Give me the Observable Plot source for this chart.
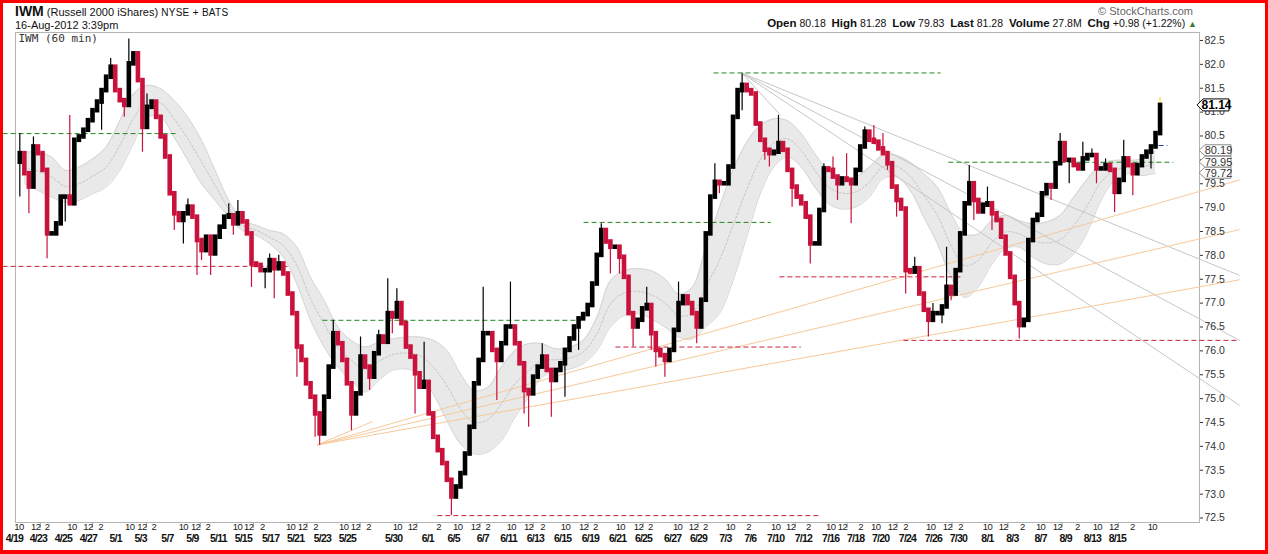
<!DOCTYPE html>
<html><head><meta charset="utf-8">
<script src="https://cdn.jsdelivr.net/npm/d3@7"></script>
<script src="https://cdn.jsdelivr.net/npm/@observablehq/plot@0.6"></script>
<style>
html,body{margin:0;padding:0;background:#fff;}
#wrap{position:relative;width:1268px;height:554px;overflow:hidden;font-family:"Liberation Sans",Arial,sans-serif;color:#111;}
.abs{position:absolute;white-space:nowrap;}
#border{position:absolute;left:0;top:0;width:1268px;height:554px;box-sizing:border-box;border:3px solid #ff0000;border-bottom-width:4px;pointer-events:none;}
#chart{position:absolute;left:0;top:30px;}
b{font-weight:bold;font-size:11.5px;}
</style></head>
<body><div id="wrap">
<div class="abs" style="left:15px;top:4px;line-height:14px;"><span style="font-weight:bold;font-size:14px;">IWM</span><span style="font-size:11px;"> (Russell 2000 iShares) </span><span style="font-size:10px;letter-spacing:0.3px;">NYSE + BATS</span></div>
<div class="abs" style="left:15px;top:19px;font-size:11px;line-height:12px;">16-Aug-2012 3:39pm</div>
<div class="abs" style="right:75px;top:5px;font-size:11px;line-height:12px;color:#666;">© StockCharts.com</div>
<div class="abs" style="right:71px;top:17px;font-size:10.5px;line-height:13px;"><b>Open</b> 80.18&nbsp; <b>High</b> 81.28&nbsp; <b>Low</b> 79.83&nbsp; <b>Last</b> 81.28&nbsp; <b>Volume</b> 27.8M&nbsp; <b>Chg</b> +0.98 (+1.22%) <span style="color:#3a7a3a;font-size:9px;">▲</span></div>
<div id="chart"></div>
<div id="border"></div>
</div>
<script>
// ---------- DATA ----------
// x unit = "slot": three readings per trading day (10, 12, 2 o'clock), 4/19 .. 8/16
const firstOpen = 79.95;
const closes = [
 80.13, 79.71, 79.43, 80.27, 80.13, 79.78, 78.45, 78.45, 78.66, 79.22, 79.22, 79.08,
 80.41, 80.48, 80.62, 80.82, 81.03, 81.21, 81.45, 81.73, 81.94, 81.45, 81.24, 81.14,
 82.01, 82.22, 81.66, 80.68, 81.10, 81.21, 80.89, 80.48, 80.06, 79.29, 78.87, 78.73,
 78.87, 79.01, 78.80, 78.31, 78.10, 78.38, 78.03, 78.38, 78.59, 78.80, 78.83, 78.66,
 78.87, 78.70, 78.45, 77.82, 77.79, 77.68, 77.68, 77.89, 77.72, 77.82, 77.61, 77.19,
 76.78, 76.08, 75.80, 75.31, 75.03, 74.68, 74.26, 75.03, 75.66, 76.36, 76.15, 75.80,
 75.31, 74.68, 75.10, 75.87, 75.66, 75.45, 75.94, 76.29, 76.18, 76.78, 76.71, 76.99,
 76.57, 76.08, 75.87, 75.52, 75.24, 75.34, 74.68, 74.19, 73.91, 73.64, 73.29, 72.94,
 73.15, 73.43, 73.84, 74.40, 75.31, 75.80, 76.36, 76.36, 76.01, 75.80, 76.15, 76.50,
 76.50, 76.15, 75.73, 75.17, 75.10, 75.45, 75.66, 75.87, 75.59, 75.38, 75.59, 75.73,
 76.01, 76.25, 76.50, 76.67, 76.76, 76.95, 77.40, 78.00, 78.52, 78.28, 78.17, 78.17,
 77.96, 77.54, 76.78, 76.50, 76.64, 76.88, 76.95, 76.36, 76.01, 75.90, 75.80, 76.01,
 76.43, 76.99, 77.13, 76.99, 76.78, 76.50, 77.06, 78.45, 79.22, 79.53, 79.50, 79.50,
 79.85, 80.89, 81.45, 81.56, 81.45, 81.38, 80.75, 80.41, 80.20, 80.13, 80.16, 80.34,
 80.20, 79.78, 79.43, 79.22, 79.08, 78.80, 78.24, 78.24, 78.94, 79.81, 79.78, 79.64,
 79.50, 79.60, 79.57, 79.50, 79.78, 80.27, 80.58, 80.41, 80.37, 80.23, 80.13, 79.92,
 79.43, 79.15, 78.97, 77.68, 77.65, 77.72, 77.19, 76.85, 76.64, 76.78, 76.78, 76.92,
 77.33, 77.19, 77.68, 78.45, 79.08, 79.50, 79.15, 78.91, 79.05, 79.08, 78.87, 78.73,
 78.38, 78.03, 77.54, 76.99, 76.53, 76.64, 78.31, 78.73, 78.84, 79.29, 79.46, 79.43,
 79.92, 80.34, 79.99, 79.99, 79.88, 79.81, 80.02, 80.09, 80.09, 79.81, 79.81, 79.88,
 79.78, 79.32, 79.57, 80.02, 79.88, 79.71, 79.88, 80.06, 80.16, 80.27, 80.55, 81.14
];
// wick tips [slot, price]
const wickTips = [
 [0,80.55],[0,79.22],[2,78.87],[3,80.48],[6,77.93],[10,78.70],[11,80.93],[18,80.62],[20,82.12],[23,80.89],
 [24,82.53],[27,80.16],[28,81.38],[34,78.52],[36,78.24],[37,79.18],[39,77.58],[40,77.89],[42,77.58],[46,79.08],
 [47,78.42],[48,79.15],[51,77.33],[54,77.30],[55,78.03],[56,77.09],[57,78.00],[61,75.45],
 [65,74.19],[66,74.02],[69,76.64],[73,74.33],[75,76.29],[77,75.17],[79,76.43],[81,77.51],[82,76.36],[83,77.30],
 [87,74.68],[89,76.18],[95,72.55],[102,77.33],[105,74.96],[108,77.44],[111,74.68],[112,74.40],[115,76.15],[117,74.61],
 [120,75.03],[123,76.01],
 [128,78.66],[130,77.61],[132,77.61],[135,76.08],[138,77.33],[139,76.01],[140,75.66],[142,75.45],[145,77.44],[149,76.15],
 [153,79.92],[154,79.29],[159,81.80],[159,81.03],[164,79.99],[165,79.85],[167,80.93],[170,79.01],[174,77.82],[177,79.92],
 [179,80.06],[180,79.15],[182,80.13],[183,78.66],[186,80.69],[188,80.72],[193,78.80],
 [190,80.55],[191,79.78],[195,77.19],[197,77.96],[200,76.29],[201,76.99],[203,76.57],[204,78.17],[205,77.05],[209,79.88],
 [210,78.73],[213,79.43],[214,78.52],[220,76.25],[227,79.15],[229,80.55],[231,79.50],[234,80.37],[236,80.23],[237,79.50],
 [239,80.02],[241,78.90],[243,80.41],[245,79.25],[249,79.81],[251,81.31]
];
// moving-average envelope, one reading per trading day
const bandHi = [
 80.16, 80.16, 80.06, 79.78, 79.85, 80.02, 80.27, 80.82, 81.38, 81.56, 81.49, 81.24,
 80.89, 80.41, 79.78, 79.15, 78.73, 78.63, 78.52, 78.45, 78.17, 77.54, 77.06, 76.50,
 76.22, 76.08, 76.18, 76.25, 76.29, 76.29, 76.22, 76.01, 75.52, 75.17, 75.24, 75.66,
 76.01, 76.15, 76.15, 76.04, 76.08, 76.22, 76.70, 77.47, 77.68, 77.72, 77.68, 77.51,
 77.19, 77.33, 78.17, 79.01, 79.78, 80.37, 80.72, 80.86, 80.82, 80.55, 80.13, 79.78,
 79.64, 79.64, 79.85, 80.10, 80.09, 79.95, 79.71, 79.43, 78.87, 78.45, 78.45, 78.73,
 78.84, 78.73, 78.66, 78.70, 78.84, 79.22, 79.60, 79.92, 79.99, 79.99, 80.02, 80.19
];
const bandLo = [
 79.50, 79.36, 79.22, 79.11, 79.15, 79.29, 79.43, 79.78, 80.34, 80.89, 80.89, 80.47,
 79.99, 79.50, 79.15, 78.80, 78.52, 78.42, 78.24, 77.96, 77.40, 76.64, 76.08, 75.66,
 75.38, 75.14, 75.38, 75.59, 75.62, 75.52, 75.10, 74.54, 74.05, 73.84, 73.88, 74.12,
 74.61, 75.03, 75.45, 75.59, 75.62, 75.73, 76.00, 76.50, 76.74, 76.78, 76.67, 76.50,
 76.29, 76.25, 76.50, 76.78, 77.47, 78.38, 79.29, 79.85, 80.06, 79.85, 79.43, 79.08,
 78.97, 79.01, 79.22, 79.60, 79.64, 79.36, 78.80, 78.24, 77.54, 77.12, 77.34, 77.82,
 78.14, 78.17, 77.96, 77.82, 77.82, 78.03, 78.49, 79.15, 79.57, 79.71, 79.67, 79.72
];
// dashed horizontal levels
const levelKind  = ["green","green","green","green","green","red","red","red","red","red","blue"];
const levelPrice = [80.55, 76.64, 78.69, 81.82, 79.95, 77.77, 72.55, 76.08, 77.55, 76.22, 80.30];
const levelFrom  = [-3.8, 66.6, 124.1, 152.7, 204.4, -3.8, 91.9, 131.1, 167.2, 194.5, 248.9];
const levelTo    = [34.7, 122.3, 165.3, 202.7, 253.9, 59.6, 175.8, 171.9, 207.5, 268.5, 252.6];
// trend fans
const grayFanFrom = [158.9, 81.82];
const grayFanTo   = [[268.5, 77.58], [268.5, 76.22], [268.5, 74.86], [167.5, 80.93]];
const orangeFanFrom = [65.46, 74.03];
const orangeFanTo   = [[268.5, 79.58], [268.5, 78.54], [268.5, 77.49], [77.6, 74.52]];
// price axis
const yTicks = [72.5,73.0,73.5,74.0,74.5,75.0,75.5,76.0,76.5,77.0,77.5,78.0,78.5,79.0,79.5,80.0,80.5,81.0,81.5,82.0,82.5];
const yHiddenLabels = [80.0];   // covered by the value tags in the reference
// time axis labels (slot positions)
const hourLabels = ["10","12","2","10","12","2","10","12","2","10","12","2","10","12","2","10","12","2","10","12","2","10","12",
 "2","10","12","2","10","12","2","10","12","2","10","12","2","10","12","2","10","2","10","12","2","10","12",
 "2","10","12","2","10","12","2","10","12","2","10","12","2","10","12","2","10"];
const hourPos = [-0.2,3.5,6.0,11.5,15.0,17.8,24.2,26.9,29.5,36.0,38.7,41.4,47.9,50.4,53.4,59.6,62.2,65.1,71.3,73.9,76.8,83.1,86.4,
 92.2,96.4,100.3,103.0,108.2,112.0,115.1,120.1,124.1,126.7,132.2,136.2,138.8,144.8,148.3,150.9,156.4,160.4,166.4,169.7,173.6,178.5,181.1,
 185.1,188.4,192.1,195.0,200.5,204.2,207.1,213.0,216.5,220.7,224.7,228.4,232.8,237.2,240.8,244.9,249.3];
const dateLabels = ["4/19","4/23","4/25","4/27","5/1","5/3","5/7","5/9","5/11","5/15","5/17","5/21","5/23","5/25","5/30",
 "6/1","6/5","6/7","6/11","6/13","6/15","6/19","6/21","6/25","6/27","6/29","7/3","7/6","7/10","7/12","7/16",
 "7/18","7/20","7/24","7/26","7/30","8/1","8/3","8/7","8/9","8/13","8/15"];
const datePos = [-1.2,4.1,9.6,15.1,21.1,26.6,32.5,38.0,43.7,49.2,55.2,60.7,66.6,72.1,82.3,
 89.8,95.5,101.9,107.6,113.5,119.5,125.6,131.6,137.3,143.7,149.4,155.3,160.8,166.4,172.5,178.5,
 184.0,189.5,195.4,201.1,206.6,213.0,218.5,224.7,230.2,236.1,241.6];
// right-edge value tags
const tagValues = [81.14, 80.19, 79.95, 79.72];
const tagBold = [true, false, false, false];

// ---------- BUILD ----------
const RED = "#c8123c";
const candles = closes.map((c, i) => {
  const o = i ? closes[i - 1] : firstOpen;
  return {s: i, open: o, close: c, color: c >= o ? "#000000" : RED};
});
const wicks = wickTips.map(([s, p]) => ({
  s, tip: p, base: closes[s],
  color: (s === closes.length - 1 && p > closes[s]) ? "#f4e24a" : candles[s].color
}));
const band = bandHi.map((h, d) => ({s: 3 * d + 1, hi: h, lo: bandLo[d]}));
const levelColor = {green: "#1f8a1f", red: "#c8203a", blue: "#2233aa"};
const levels = levelPrice.map((p, i) => ({p, from: levelFrom[i], to: levelTo[i], color: levelColor[levelKind[i]]}));
const fans = [
  ...grayFanTo.map(([s, p]) => ({x1: grayFanFrom[0], y1: grayFanFrom[1], x2: s, y2: p, color: "#c6c6c6"})),
  ...orangeFanTo.map(([s, p]) => ({x1: orangeFanFrom[0], y1: orangeFanFrom[1], x2: s, y2: p, color: "#f7c89a"}))
];
const hours = hourLabels.map((t, i) => ({s: hourPos[i], t}));
const dates = dateLabels.map((t, i) => ({s: datePos[i], t}));
const smallTicks = hours.filter(d => d.t === "12").map(d => d.s + 1.0);

const chart = Plot.plot({
  width: 1268, height: 524,
  marginLeft: 15, marginRight: 69, marginTop: 2, marginBottom: 32,
  x: {domain: [-0.95, 259.68], label: null},
  y: {domain: [72.406, 82.667], label: null},
  style: {fontFamily: "'Liberation Sans', Arial, sans-serif", fontSize: "10px", color: "#222", background: "transparent", overflow: "visible"},
  marks: [
    Plot.areaY(band, {x: "s", y1: "lo", y2: "hi", fill: "#e9e9e9", curve: "catmull-rom"}),
    Plot.line(band, {x: "s", y: "hi", stroke: "#d4d4d4", strokeWidth: 1, curve: "catmull-rom"}),
    Plot.line(band, {x: "s", y: "lo", stroke: "#d4d4d4", strokeWidth: 1, curve: "catmull-rom"}),
    Plot.line(band, {x: "s", y: d => (d.hi + d.lo) / 2, stroke: "#c4c4c4", strokeWidth: 1, strokeDasharray: "2,2", curve: "catmull-rom"}),
    Plot.frame({stroke: "#b4b4b4"}),
    Plot.link(fans, {x1: "x1", y1: "y1", x2: "x2", y2: "y2", stroke: "color", strokeWidth: 1}),
    Plot.link(levels, {x1: "from", x2: "to", y1: "p", y2: "p", stroke: "color", strokeWidth: 1, strokeDasharray: "5,3"}),
    Plot.ruleX(wicks, {x: "s", y1: "base", y2: "tip", stroke: "color", strokeWidth: 1.2}),
    Plot.ruleX(candles, {x: "s", y1: "open", y2: "close", stroke: "color", strokeWidth: 4.6, strokeLinecap: "square"}),
    Plot.axisY({anchor: "right", ticks: yTicks, tickFormat: d => yHiddenLabels.includes(d) ? "" : d.toFixed(1), tickSize: 3, tickPadding: 2, fontSize: 10.5, color: "#333", label: null}),
    Plot.axisX({ticks: smallTicks, tickSize: 6, tickFormat: () => "", stroke: "#a0a0a0", label: null}),
    Plot.text(hours, {x: "s", text: "t", frameAnchor: "bottom", dy: 4.5, lineAnchor: "middle", fontSize: 9.5, fill: "#222", fontFamily: "'Liberation Sans', Arial, sans-serif"}),
    Plot.text(dates, {x: "s", text: "t", frameAnchor: "bottom", dy: 16.5, lineAnchor: "middle", fontSize: 10.5, fontWeight: "bold", fill: "#111", fontFamily: "Arial, 'Liberation Sans', sans-serif"}),
    Plot.text(["IWM (60 min)"], {frameAnchor: "top-left", dx: 3, dy: 5.5, lineAnchor: "middle", textAnchor: "start", fontFamily: "'DejaVu Sans Mono', monospace", fontSize: 11, fill: "#333"})
  ]
});
document.getElementById("chart").appendChild(chart);
// tighten the two bottom label rows (narrow face in the reference)
d3.select(chart).selectAll("text").each(function () {
  const t = this.textContent, fw = this.getAttribute("font-weight") || (this.parentNode && this.parentNode.getAttribute("font-weight"));
  if (/^\d{1,2}\/\d{1,2}$/.test(t)) this.style.letterSpacing = "-0.8px";
  else if (/^(10|12|2)$/.test(t)) this.style.letterSpacing = "-0.6px";
});

// value tags on the price axis, positioned with the plot's y scale
const ys = chart.scale("y");
const Y = v => (typeof ys.apply === "function") ? ys.apply(v)
  : ys.range[0] + (v - ys.domain[0]) / (ys.domain[1] - ys.domain[0]) * (ys.range[1] - ys.range[0]);
const g = d3.select(chart).append("g");
tagValues.forEach((v, i) => {
  const y = Y(v), bold = tagBold[i];
  const tip = bold ? 1197 : 1199, l = tip + 6, r = bold ? 1229 : 1231, h = bold ? 12 : 11;
  g.append("path")
    .attr("d", `M${tip},${y}L${l},${y - h / 2}L${r},${y - h / 2}L${r},${y + h / 2}L${l},${y + h / 2}Z`)
    .attr("fill", "#fff").attr("stroke", bold ? "#000" : "#8a8a8a").attr("stroke-width", 1);
  g.append("text").attr("x", (l + r) / 2 + 0.5).attr("y", y).attr("dy", "0.36em")
    .attr("text-anchor", "middle").attr("font-size", bold ? 12 : 11)
    .attr("font-weight", bold ? "bold" : "normal").attr("fill", bold ? "#000" : "#333")
    .text(v.toFixed(2));
});
</script>
</body></html>
